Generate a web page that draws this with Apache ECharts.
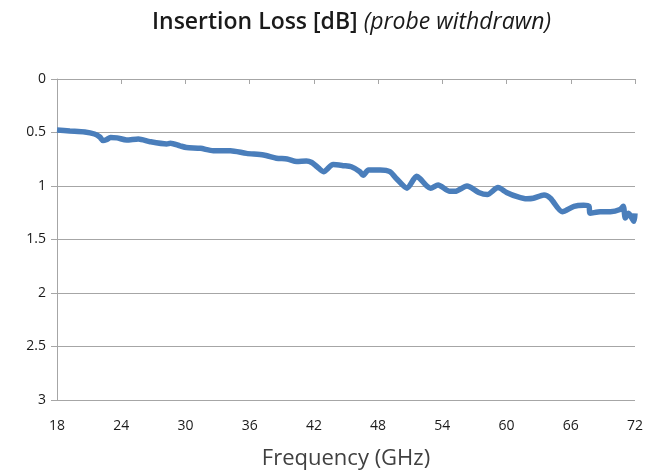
<!DOCTYPE html>
<html>
<head>
<meta charset="utf-8">
<script src="https://cdn.jsdelivr.net/npm/echarts@6/dist/echarts.min.js"></script>
<style>html,body{margin:0;padding:0;background:#fff}#c{width:655px;height:470px}</style>
</head>
<body>
<div id="c"></div>
<script>
const xTicks = [18, 24, 30, 36, 42, 48, 54, 60, 66, 72];
const yTicks = [0, 0.5, 1, 1.5, 2, 2.5, 3];
const freqGHz = [18, 19.2, 20.6, 21.5, 22.0, 22.3, 22.6, 23.0, 23.6, 24.5, 25.6, 26.7, 28.25, 28.6, 29.5, 30.1, 31.4, 32.6, 34.2, 35.7, 37.3, 38.5, 39.5, 40.4, 41.3, 41.8, 42.3, 42.9, 43.8, 44.8, 45.5, 46.3, 46.6, 47.1, 48.2, 49.1, 49.7, 50.7, 51.6, 51.9, 52.55, 52.9, 53.6, 54.7, 55.2, 56.3, 57.4, 58.2, 59.2, 60.0, 61.0, 61.9, 62.5, 63.5, 64.1, 65.2, 66.3, 67.2, 67.7, 67.8, 68.75, 69.7, 70.6, 70.9, 71.1, 71.4, 71.9, 72];
const lossDB = [0.477, 0.486, 0.495, 0.514, 0.542, 0.575, 0.568, 0.547, 0.55, 0.57, 0.56, 0.586, 0.607, 0.60, 0.625, 0.64, 0.648, 0.67, 0.67, 0.695, 0.71, 0.74, 0.747, 0.77, 0.766, 0.78, 0.82, 0.866, 0.80, 0.81, 0.82, 0.866, 0.90, 0.85, 0.85, 0.866, 0.93, 1.02, 0.91, 0.93, 1.0, 1.02, 0.99, 1.05, 1.05, 1.0, 1.06, 1.08, 1.015, 1.06, 1.10, 1.12, 1.115, 1.085, 1.115, 1.24, 1.19, 1.18, 1.19, 1.255, 1.24, 1.24, 1.22, 1.19, 1.30, 1.255, 1.33, 1.255];

const chart = echarts.init(document.getElementById('c'));
chart.setOption({
  animation: false,
  backgroundColor: '#fff',
  title: {
    text: '{b|Insertion Loss [dB] }{i|(probe withdrawn)}',
    left: 147,
    top: 6,
    textStyle: {
      fontWeight: 'normal',
      rich: {
        b: { fontFamily: 'Open Sans', fontWeight: 600, fontSize: 23, color: '#1a1a1a' },
        i: { fontFamily: 'Open Sans', fontStyle: 'italic', fontWeight: 'normal', fontSize: 23, color: '#1a1a1a' }
      }
    }
  },
  grid: { left: 57, right: 20, top: 79, bottom: 70, containLabel: false, outerBoundsMode: 'none' },
  xAxis: {
    type: 'value', min: 18, max: 72, interval: 6,
    name: 'Frequency (GHz)', nameLocation: 'middle', nameGap: 48,
    nameTextStyle: { fontFamily: 'Open Sans', fontSize: 22, color: '#404040' },
    axisLine: { lineStyle: { color: '#a6a6a6', width: 1 } },
    axisTick: { show: true, length: 5, lineStyle: { color: '#a6a6a6' } },
    axisLabel: { margin: 19, fontFamily: 'Open Sans', fontSize: 14, color: '#1a1a1a',
      formatter: v => xTicks.includes(v) ? String(v) : '' },
    splitLine: { show: false }
  },
  yAxis: {
    type: 'value', inverse: true, min: 0, max: 3, interval: 0.5,
    axisLine: { show: true, lineStyle: { color: '#a6a6a6', width: 1 } },
    axisTick: { show: true, length: 6, lineStyle: { color: '#a6a6a6' } },
    axisLabel: { margin: 11, fontFamily: 'Open Sans', fontSize: 14, color: '#1a1a1a',
      formatter: v => yTicks.includes(v) ? String(v) : '' },
    splitLine: { show: true, lineStyle: { color: '#a6a6a6', width: 1 } }
  },
  series: [{
    type: 'line',
    data: freqGHz.map((f, i) => [f, lossDB[i]]),
    showSymbol: false,
    symbol: 'none',
    smooth: 0.25,
    lineStyle: { color: '#4a7ebb', width: 5.5 }
  }]
});
</script>
</body>
</html>
